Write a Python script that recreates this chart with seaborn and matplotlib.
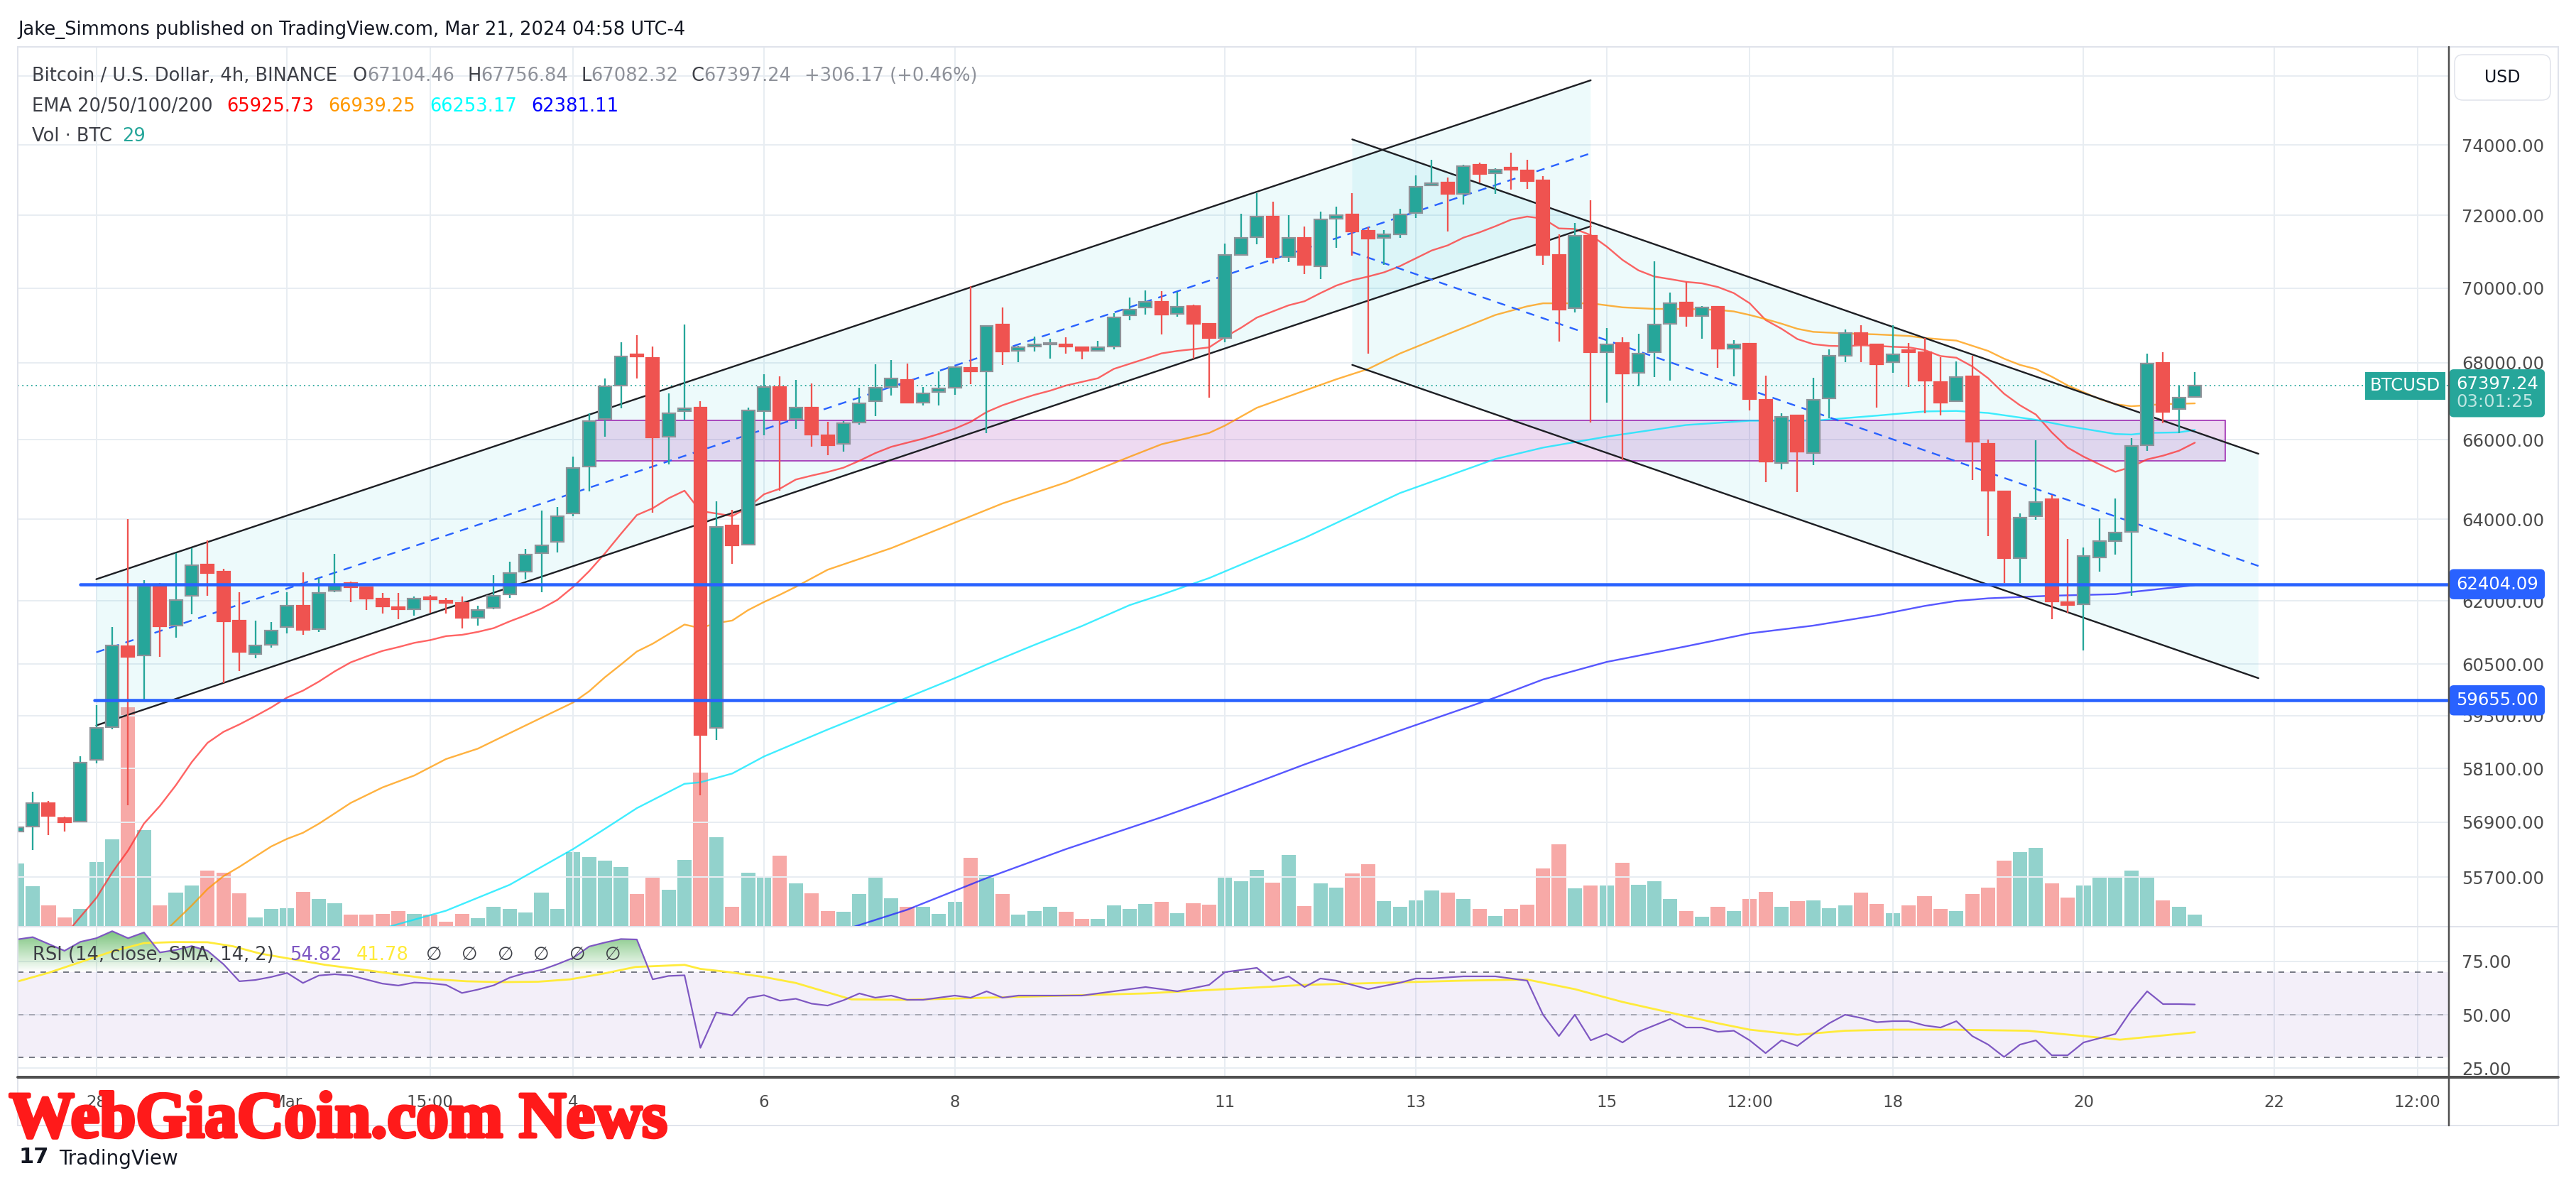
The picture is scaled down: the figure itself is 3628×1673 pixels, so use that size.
import numpy as np
import pandas as pd
import matplotlib
matplotlib.use("Agg")
import matplotlib.pyplot as plt
import matplotlib.ticker as mticker
import matplotlib.patheffects as pe
from matplotlib.colors import LinearSegmentedColormap
from matplotlib.lines import Line2D
from matplotlib.patches import FancyBboxPatch, Rectangle
from matplotlib.path import Path
from matplotlib.transforms import IdentityTransform
import seaborn as sns

# ---------------- data (4h candles, index 0 = Feb 27 08:00) ----------------
candle_idx = list(range(-1, 137))

opens = [56700, 56811, 57318, 56990, 56920, 58288, 59041, 60918, 60697, 62403,
         61410, 62126, 62880, 62704, 61533, 60733, 60955, 61373, 61877, 61324,
         62240, 62430, 62330, 62050, 61840, 61800, 62080, 62010, 61950, 61594,
         61828, 62151, 62717, 63157, 63434, 64140, 65312, 66528, 67406, 68232,
         68137, 66081, 66730, 66825, 59018, 63849, 63371, 66730, 67366, 66540,
         66825, 66121, 65898, 66446, 67000, 67366, 67555, 66960, 67244, 67338,
         67865, 67770, 69027, 68315, 68430, 68480, 68480, 68411, 68315, 68438,
         69260, 69479, 69630, 69302, 69507, 69041, 68657, 70913, 71400, 71971,
         70842, 71385, 70599, 71914, 72029, 71571, 71371, 71471, 72071, 72850,
         72920, 72603, 73424, 73180, 73330, 73266, 72992, 70913, 69452, 71428,
         68274, 68520, 67730, 68274, 69041, 69603, 69247, 69493, 68384, 68507,
         67027, 65414, 66622, 65656, 67068, 68178, 68795, 68493, 68027, 68300,
         68288, 67501, 67000, 67650, 65898, 64700, 63032, 64076, 64497, 61963,
         61926, 63057, 63459, 63686, 65860, 68000, 66798, 67104.46]
highs = [56850, 57580, 57364, 57030, 58370, 59547, 61373, 64000, 62503, 62430,
         63157, 63283, 63472, 62780, 62214, 61533, 61496, 62214, 62692, 62554,
         63145, 62470, 62350, 62190, 62200, 62100, 62140, 62070, 62100, 61877,
         62630, 62956, 63258, 64204, 64293, 65567, 66675, 67595, 68548, 68726,
         68425, 67190, 69014, 67000, 64446, 64230, 66825, 67703, 67636, 67555,
         67460, 66460, 66486, 67352, 67960, 68082, 67987, 67366, 67770, 67892,
         70058, 68973, 69479, 68452, 68698, 68630, 68685, 68440, 68575, 69315,
         69753, 69945, 69918, 69890, 69562, 69041, 71214, 72057, 72634, 72389,
         72000, 71700, 72100, 72240, 72634, 71671, 71585, 72197, 73136, 73582,
         73064, 73424, 73496, 73323, 73784, 73582, 73107, 71485, 71786, 72432,
         68931, 68685, 68781, 70727, 69877, 70172, 69520, 69520, 68603, 68507,
         67663, 66690, 66622, 67609, 68356, 68891, 69000, 68493, 69000, 68520,
         68657, 68150, 68041, 68178, 66013, 64700, 64140, 65987, 64610, 63510,
         63308, 64013, 64522, 66040, 68247, 68288, 67406, 67756.84]
lows = [56600, 56290, 56611, 56700, 56900, 58218, 58994, 57270, 59665, 60672,
        61127, 61680, 62126, 60053, 60335, 60635, 60894, 61226, 61189, 61263,
        62214, 61963, 61779, 61693, 61570, 61650, 61720, 61690, 61335, 61410,
        61800, 62076, 62528, 62214, 63182, 64076, 64700, 66081, 66811, 67595,
        64166, 65376, 66514, 57502, 58747, 62906, 63346, 66108, 64713, 66285,
        65822, 65605, 65694, 66392, 66608, 67136, 66960, 66892, 66892, 67163,
        67433, 66176, 67946, 68027, 68301, 68110, 68247, 68096, 68300, 68356,
        69137, 69288, 68754, 69233, 68110, 67095, 68548, 70913, 71200, 70670,
        70713, 70384, 70241, 71100, 70885, 68247, 70627, 71371, 71928, 72850,
        71557, 72317, 72920, 72603, 72719, 72747, 70627, 68561, 69343, 66446,
        66960, 65478, 67379, 67622, 67527, 68960, 68644, 67865, 67636, 66757,
        64930, 65249, 64675, 65351, 66555, 68014, 68014, 66825, 67730, 67366,
        66690, 66622, 67000, 64981, 63573, 62428, 62428, 63975, 61557, 61717,
        60820, 62704, 63120, 62126, 65720, 66419, 66176, 67082.32]
closes = [56790, 57318, 57042, 56900, 58230, 59018, 60930, 60672, 62365, 61385,
          62025, 62868, 62680, 61508, 60795, 60943, 61287, 61877, 61312, 62189,
          62380, 62330, 62050, 61865, 61800, 62050, 62040, 61960, 61594, 61780,
          62126, 62680, 63132, 63346, 64076, 65274, 66486, 67379, 68164, 68164,
          66067, 66690, 66811, 58865, 63811, 63346, 66757, 67366, 66514, 66825,
          66135, 65860, 66419, 66946, 67352, 67582, 66960, 67203, 67325, 67892,
          67770, 68973, 68301, 68410, 68466, 68493, 68440, 68315, 68411, 69205,
          69425, 69630, 69288, 69493, 69041, 68657, 70899, 71371, 71971, 70856,
          71385, 70627, 71886, 72000, 71557, 71357, 71485, 72029, 72805, 72890,
          72603, 73395, 73165, 73294, 73300, 72963, 70913, 69411, 71428, 68274,
          68493, 67712, 68247, 69014, 69589, 69247, 69479, 68384, 68493, 67054,
          65440, 66595, 65694, 67027, 68178, 68795, 68493, 67960, 68233, 68290,
          67541, 66960, 67622, 65949, 64713, 63032, 64038, 64433, 61988, 61900,
          63082, 63459, 63673, 65847, 67973, 66717, 67091, 67397.24]
volumes = [148, 95, 50, 22, 42, 152, 205, 514, 227, 50,
           80, 97, 132, 127, 79, 22, 41, 43, 82, 65,
           55, 28, 28, 30, 37, 30, 29, 12, 30, 20,
           47, 41, 34, 80, 42, 175, 163, 155, 140, 76,
           119, 86, 157, 361, 210, 47, 127, 119, 166, 102,
           79, 37, 35, 76, 119, 67, 46, 47, 30, 58,
           162, 122, 76, 29, 37, 46, 35, 19, 19, 50,
           42, 54, 58, 32, 55, 52, 116, 106, 133, 103,
           168, 49, 102, 92, 125, 146, 60, 47, 62, 85,
           80, 65, 42, 25, 42, 52, 137, 193, 90, 97,
           97, 150, 98, 106, 65, 37, 24, 47, 37, 65,
           82, 47, 60, 62, 43, 50, 80, 54, 32, 50,
           72, 42, 37, 76, 92, 155, 174, 184, 102, 68,
           97, 115, 115, 132, 119, 62, 47, 29]

ema20_idx = [2.5] + list(range(4, 137))
ema20_val = [54650,
             55250, 55800, 56280, 56870, 57260, 57720, 58240, 58680, 58930, 59100,
             59290, 59490, 59720, 59880, 60090, 60330, 60540, 60680, 60810, 60900,
             61000, 61065, 61160, 61190, 61260, 61350, 61510, 61655, 61815, 62025,
             62340, 62720, 63157, 63635, 64100, 64270, 64520, 64710, 64200, 64140,
             64075, 64290, 64620, 64760, 64990, 65090, 65180, 65290, 65465, 65660,
             65820, 65925, 66027, 66150, 66285, 66460, 66715, 66890, 67030, 67160,
             67270, 67405, 67500, 67595, 67840, 67975, 68110, 68250, 68315, 68360,
             68410, 68685, 68930, 69205, 69370, 69535, 69645, 69865, 70070, 70215,
             70315, 70430, 70600, 70815, 71030, 71170, 71385, 71530, 71700, 71885,
             71970, 71915, 71640, 71625, 71455, 71140, 70770, 70485, 70315, 70245,
             70170, 70130, 70030, 69865, 69590, 69140, 68905, 68630, 68495, 68450,
             68440, 68465, 68450, 68425, 68410, 68340, 68180, 68135, 67905, 67595,
             67190, 66890, 66650, 66190, 65800, 65570, 65375, 65185, 65310, 65500,
             65595, 65720, 65925.73]
ema50_idx = [8.5, 10, 11, 12, 13, 14, 15, 16, 17, 18, 19, 20, 21, 22, 24, 26, 28, 30, 32, 34,
             35, 36, 37, 38, 39, 41, 42, 43, 44, 45, 46, 47, 48, 50, 54, 58, 61, 65, 69, 71,
             74, 75, 77, 80, 82, 84, 86, 88, 90, 92, 94, 95, 98, 100, 102, 104, 106, 107, 108, 109,
             110, 111, 112, 114, 116, 118, 119, 121, 122, 123, 124, 125, 126, 127, 128, 129, 130, 131,
             132, 133, 134, 136]
ema50_val = [54600, 55090, 55445, 55722, 55923, 56145, 56367, 56534, 56667, 56867,
             57096, 57327, 57500, 57673, 57940, 58312, 58547, 58900, 59253, 59606,
             59865, 60194, 60488, 60795, 60980, 61435, 61350, 61470, 61530, 61780,
             61975, 62150, 62340, 62755, 63283, 63912, 64390, 64918, 65567, 65885,
             66176, 66366, 66825, 67271, 67568, 67838, 68247, 68590, 68932, 69274,
             69507, 69589, 69589, 69480, 69438, 69438, 69411, 69370, 69274, 69164,
             69041, 68904, 68822, 68781, 68754, 68713, 68658, 68590, 68452, 68315,
             68110, 67946, 67838, 67636, 67406, 67230, 67054, 66919, 66865, 66892,
             66919, 66939.25]
ema100_idx = [22, 26, 30, 34, 36, 38, 41, 42, 44, 46, 50, 54, 58, 60, 63, 66, 69, 71, 74, 80,
              86, 92, 95, 99, 104, 108, 112, 116, 119, 121, 123, 126, 128, 131, 132, 133, 135, 136]
ema100_val = [54600, 54980, 55535, 56312, 56756, 57211, 57754, 57788, 57985, 58370,
              58982, 59570, 60170, 60488, 60950, 61400, 61900, 62150, 62553, 63535,
              64650, 65510, 65800, 66081, 66380, 66490, 66490, 66622, 66730, 66743,
              66690, 66514, 66352, 66149, 66135, 66176, 66190, 66253.17]
ema200_idx = [51.3, 55, 60, 65, 71, 74, 80, 86, 92, 95, 99, 104, 108, 112, 116, 119, 121, 123,
              127, 131, 132, 136]
ema200_val = [54600, 55000, 55680, 56310, 57010, 57384, 58190, 58960, 59720, 60140, 60550,
              60918, 61225, 61410, 61655, 61880, 62000, 62063, 62126, 62164, 62214, 62381.11]

rsi_idx = [-1, 0, 2, 3, 4, 5, 6, 7, 8, 9, 10, 11, 12, 13, 14, 15, 16, 17, 18, 19, 20,
           22, 23, 24, 25, 26, 27, 28, 29, 30, 31, 32, 33, 34, 35, 36, 37, 38, 39, 40, 41,
           42, 43, 44, 45, 46, 47, 48, 49, 50, 51, 52, 53, 54, 55, 56, 57, 58, 59, 60, 61, 62,
           64, 66, 68, 70, 72, 74, 75, 77, 78, 79, 80, 81, 82, 83, 84, 86, 87, 88, 90,
           92, 93, 94, 95, 96, 97, 98, 99, 100, 101, 102, 103, 104, 105, 106, 107, 108, 109,
           110, 111, 112, 113, 114, 115, 116, 117, 118, 119, 120, 121, 122, 123, 124, 125,
           126, 127, 128, 129, 130, 131, 132, 133, 134, 135, 136]
rsi_val = [85.3, 86.4, 80.0, 84.2, 85.9, 89.2, 85.9, 88.6, 79.2, 80.4, 82.2, 80.0, 73.7, 65.7,
           66.3, 67.7, 69.6, 64.9, 68.4, 69.0, 68.4,
           64.6, 63.7, 65.1, 64.8, 64.0, 60.2, 61.8, 63.8, 67.4, 69.6, 71.0, 73.7, 76.7, 82.0,
           83.9, 85.5, 85.3, 66.6, 68.2, 68.5, 34.5, 51.1, 49.7, 57.9, 59.2, 56.6, 57.5, 55.2,
           54.3, 56.8, 60, 58, 59, 57, 57, 58, 59, 58, 61, 58, 59,
           59, 59, 61, 63, 61, 64, 70, 72, 66, 68, 63, 67, 66, 64, 62, 65, 67, 67, 68,
           68, 67, 66, 50, 40, 50, 38, 41, 37, 42, 45, 48, 44, 44, 42, 42.5, 38, 32,
           38, 35.4, 41, 46, 50, 48.5, 46.5, 47, 47, 45, 44, 47, 40, 36, 30.2, 36,
           38, 31, 31, 37, 39, 41, 52, 61, 55, 55, 54.82]
rsi_sma_idx = [-1, 1, 3, 5, 7, 9, 11, 12.6, 14.3, 16, 18.4, 21.5, 25, 27.3, 29.4, 31.8, 33.8,
               35.9, 37.9, 41, 42, 43.7, 46, 48, 49.5, 51.5, 55, 60, 65, 70, 75, 80, 85, 90,
               94, 97, 100, 103, 106, 108, 111, 114, 117, 120.5, 125.5, 129.4, 131.3, 133.2, 136]
rsi_sma_val = [65.5, 69.7, 74.7, 79.7, 83.6, 84.1, 84.0, 82.1, 78.7, 76.5, 73.4, 70.4, 66.8,
               65.7, 65.3, 65.5, 66.6, 69.3, 72.4, 73.4, 71.5, 70.1, 67.7, 64.9, 61.6, 57.2,
               57, 58, 59, 60, 62, 64, 65, 66, 66.5, 62, 56, 51, 46, 43, 40.6, 42.5, 43, 43,
               42.5, 39.7, 38.3, 39.7, 41.78]

# drawings on the chart
asc_idx = [4, 98]
asc_top = [62525, 75878]
asc_bot = [59077, 71700]
desc_idx = [83, 140]
desc_top = [74158, 65643]
desc_bot = [67946, 60170]
zone_idx = [35.4, 137.9]
zone_price = [65465, 66500]
support_levels = [62404.09, 59655.00]
support_start = [3.0, 3.9]
last_price = 67397.24

price_ticks = [76000, 74000, 72000, 70000, 68000, 66000, 64000, 62000, 60500, 59300, 58100,
               56900, 55700]
time_idx = [4, 16, 25, 34, 46, 58, 75, 87, 99, 108, 117, 129, 141, 150]
time_labels = ["28", "Mar", "15:00", "4", "6", "8", "11", "13", "15", "12:00", "18", "20",
               "22", "12:00"]

# ---------------- style ----------------
UP, DOWN = "#26a69a", "#ef5350"
UP_VOL, DOWN_VOL = "#92d2cc", "#f7a9a7"
GRID = "#e8edf2"
AXIS_TXT = "#4b4b4b"
DARK = "#3d3f46"
GRAYTXT = "#8e9199"

sns.set_theme(style="white")
plt.rcParams["font.family"] = ["DejaVu Sans"]

W, H = 3628, 1673
fig = plt.figure(figsize=(W / 100, H / 100), dpi=100)
fig.patch.set_facecolor("white")


def box(l, t, r, b):
    return [l / W, 1 - b / H, (r - l) / W, (b - t) / H]


def pt(p):
    return p * 0.72


PL, PR = 25, 3449
ax_vol = fig.add_axes(box(PL, 66, PR, 1305))
ax = fig.add_axes(box(PL, 66, PR, 1305), sharex=ax_vol)
ax_rsi = fig.add_axes(box(PL, 1305, PR, 1517), sharex=ax_vol)
ax.set_facecolor("none")
ax_vol.set_axis_off()

df = pd.DataFrame({"i": candle_idx, "o": opens, "h": highs, "l": lows, "c": closes,
                   "v": volumes})
up = (df.c >= df.o).values
cols = np.where(up, UP, DOWN)

# volume
ax_vol.bar(df.i, df.v, width=0.9, color=np.where(up, UP_VOL, DOWN_VOL), linewidth=0)
ax_vol.set_ylim(0, 2063)

# price pane
ax.set_yscale("log")
ax.set_ylim(54640, 76868)

ax.fill(np.r_[asc_idx, asc_idx[::-1]], np.r_[asc_top, asc_bot[::-1]], color="#00bcd4",
        alpha=0.07, lw=0, zorder=1)
ax.fill(np.r_[desc_idx, desc_idx[::-1]], np.r_[desc_top, desc_bot[::-1]], color="#00bcd4",
        alpha=0.07, lw=0, zorder=1)
ax.add_patch(Rectangle((zone_idx[0], zone_price[0]), zone_idx[1] - zone_idx[0],
                       zone_price[1] - zone_price[0], facecolor=(0.61, 0.15, 0.69, 0.17),
                       edgecolor="#9c27b0", lw=pt(1.6), zorder=1.5))

for xs, ys, c in [(ema20_idx, ema20_val, "#ff3030"), (ema50_idx, ema50_val, "#ff9800"),
                  (ema100_idx, ema100_val, "#00e8ff"), (ema200_idx, ema200_val, "#2020ff")]:
    sns.lineplot(x=xs, y=ys, ax=ax, color=c, linewidth=pt(2.4), alpha=0.75,
                 estimator=None, sort=False, zorder=3)

for xs, top, bot in [(asc_idx, asc_top, asc_bot), (desc_idx, desc_top, desc_bot)]:
    ax.plot(xs, top, color="#1e1f24", lw=pt(2.4), zorder=3.5)
    ax.plot(xs, bot, color="#1e1f24", lw=pt(2.4), zorder=3.5)
    mid = np.sqrt(np.array(top) * np.array(bot))
    ax.plot(xs, mid, color="#2962ff", lw=pt(2.4), ls=(0, (5, 4)), zorder=3.5)

lo = np.minimum(df.o, df.c).values
hi = np.maximum(df.o, df.c).values
ax.vlines(df.i, df.l, df.h, colors=cols, linewidth=pt(2.3), zorder=4)
ax.bar(df.i, np.maximum(hi - lo, hi * 0.0008), bottom=lo, width=0.8, color=cols,
       edgecolor=np.where(up, "#8e9298", cols), linewidth=pt(2.2), zorder=5)

ax.axhline(last_price, color=UP, lw=pt(1.8), ls=(0, (1, 2.5)), zorder=2)
for lvl, x0 in zip(support_levels, support_start):
    ax.plot([x0, 152.5], [lvl, lvl], color="#2962ff", lw=pt(4.5), solid_capstyle="round",
            zorder=6)

ax.set_xlim(-0.94, 151.98)
ax.yaxis.tick_right()
ax.set_yticks(price_ticks)
ax.set_yticklabels([f"{p:.2f}" for p in price_ticks])
ax.yaxis.set_minor_locator(mticker.NullLocator())
ax.tick_params(axis="y", length=0, pad=pt(18), labelsize=17.5, labelcolor=AXIS_TXT)
ax.tick_params(axis="x", length=0, labelbottom=False)
ax.set_axisbelow(True)
ax.grid(True, color=GRID, lw=pt(2))
for s in ax.spines.values():
    s.set_visible(False)

# price tags on the axis
tag_kw = dict(xycoords=ax.get_yaxis_transform(), textcoords="offset pixels",
              fontsize=17.5, annotation_clip=False, zorder=10)
for lvl in support_levels:
    ax.annotate(f"{lvl:.2f}", xy=(1, lvl), xytext=(10, 0), ha="left", va="center",
                color="white", bbox=dict(boxstyle="round,pad=0.38,rounding_size=0.25",
                                         fc="#2962ff", ec="none"), **tag_kw)
ax.annotate(f"{last_price:.2f}\n ", xy=(1, last_price), xytext=(10, 14), ha="left",
            va="top", color="white", linespacing=1.05,
            bbox=dict(boxstyle="round,pad=0.38,rounding_size=0.25", fc=UP, ec="none"), **tag_kw)
ax.annotate(" \n03:01:25", xy=(1, last_price), xytext=(10, 14), ha="left", va="top",
            color="#bfe6e2", linespacing=1.05, **tag_kw)
ax.annotate("BTCUSD", xy=(1, last_price), xytext=(-12, 0), ha="right", va="center",
            color="white", bbox=dict(boxstyle="square,pad=0.3", fc=UP, ec="none"), **tag_kw)

# RSI pane
ax_rsi.axhspan(30, 70, color="#7e57c2", alpha=0.09, lw=0, zorder=1)
for lvl, a in [(70, 1), (50, 0.55), (30, 1)]:
    ax_rsi.axhline(lvl, color="#787b86", lw=pt(2), ls=(0, (4, 4)), alpha=a, zorder=1.2)
rx = np.array(rsi_idx, float)
ry = np.array(rsi_val, float)
ob = ax_rsi.fill_between(rx, 70, ry, where=ry > 70, interpolate=True, facecolor="none",
                         edgecolor="none")
green = LinearSegmentedColormap.from_list("ob", [(0.30, 0.69, 0.31, 0.0),
                                                 (0.30, 0.69, 0.31, 0.75)])
img = ax_rsi.imshow(np.linspace(0, 1, 200).reshape(-1, 1), cmap=green, origin="lower",
                    aspect="auto", extent=(-2, 153, 70, 89.5), zorder=1.5)
img.set_clip_path(Path.make_compound_path(*ob.get_paths()), transform=ax_rsi.transData)
sns.lineplot(x=rsi_sma_idx, y=rsi_sma_val, ax=ax_rsi, color="#ffeb3b", linewidth=pt(2.8),
             estimator=None, sort=False, zorder=3)
sns.lineplot(x=rsi_idx, y=rsi_val, ax=ax_rsi, color="#7e57c2", linewidth=pt(2.2),
             estimator=None, sort=False, zorder=4)
ax_rsi.set_ylim(20.7, 91.3)
ax_rsi.set_xlim(-0.94, 151.98)
ax_rsi.yaxis.tick_right()
ax_rsi.set_yticks([25, 50, 75])
ax_rsi.set_yticklabels(["25.00", "50.00", "75.00"])
ax_rsi.set_xticks(time_idx)
ax_rsi.set_xticklabels(time_labels)
ax_rsi.tick_params(axis="y", length=0, pad=pt(18), labelsize=17.5, labelcolor=AXIS_TXT)
ax_rsi.tick_params(axis="x", length=0, pad=pt(24), labelsize=16.5, labelcolor=AXIS_TXT)
ax.tick_params(axis="x", labelbottom=False)
ax_rsi.set_axisbelow(True)
ax_rsi.grid(True, color=GRID, lw=pt(2))
ax_rsi.set_xlabel("")
ax_rsi.set_ylabel("")
ax.set_xlabel("")
ax.set_ylabel("")
for s in ax_rsi.spines.values():
    s.set_visible(False)

# frame lines (pixel coordinates)
def hline(x0, x1, y, c, w):
    fig.add_artist(Line2D([x0, x1], [H - y, H - y], color=c, lw=pt(w),
                          transform=IdentityTransform()))


def vline(x, y0, y1, c, w):
    fig.add_artist(Line2D([x, x], [H - y0, H - y1], color=c, lw=pt(w),
                          transform=IdentityTransform()))


fig.add_artist(Rectangle((25, H - 1585), 3578, 1519, fill=False, ec="#e0e3eb", lw=pt(2),
                         transform=IdentityTransform()))
hline(25, 3603, 1305, "#e0e3eb", 2)
hline(25, 3603, 1517, "#505050", 4)
vline(3449, 66, 1585, "#505050", 2.5)

fig.add_artist(FancyBboxPatch((3457, H - 141), 135, 64,
                              boxstyle="round,pad=0,rounding_size=12", fc="white",
                              ec="#e0e3eb", lw=pt(1.5), transform=IdentityTransform()))
fig.text(3524 / W, 1 - 109 / H, "USD", fontsize=17, color="#131722", ha="center", va="center")

# legend-style header texts
rend = fig.canvas.get_renderer()


def run(x, y, pieces, size):
    for s, c, gap in pieces:
        t = fig.text(x / W, 1 - y / H, s, color=c, fontsize=size, ha="left", va="center")
        x += t.get_window_extent(rend).width + gap


run(25, 42, [("Jake_Simmons published on TradingView.com, Mar 21, 2024 04:58 UTC-4",
              "#131722", 0)], 18.5)
run(45, 107, [("Bitcoin / U.S. Dollar, 4h, BINANCE", DARK, 22), ("O", DARK, 0),
              ("67104.46", GRAYTXT, 18), ("H", DARK, 0), ("67756.84", GRAYTXT, 18),
              ("L", DARK, 0), ("67082.32", GRAYTXT, 18), ("C", DARK, 0),
              ("67397.24", GRAYTXT, 18), ("+306.17 (+0.46%)", GRAYTXT, 0)], 18.5)
run(45, 150, [("EMA 20/50/100/200", DARK, 20), ("65925.73", "#ff0000", 20),
              ("66939.25", "#ff9800", 20), ("66253.17", "#00ffff", 20),
              ("62381.11", "#0000ff", 0)], 18.5)
run(45, 192, [("Vol · BTC", DARK, 14), ("29", UP, 0)], 18.5)
run(46, 1345, [("RSI (14, close, SMA, 14, 2)", DARK, 22), ("54.82", "#7e57c2", 20),
               ("41.78", "#ffeb3b", 25)] + [("∅", DARK, 28)] * 6, 18.5)

# watermark and logo
wm = fig.text(13 / W, 1 - 1601 / H, "WebGiaCoin.com News", fontsize=66, color="#ff1a1a",
              fontfamily="Liberation Serif", fontweight="bold", ha="left", va="baseline",
              zorder=20)
wm.set_path_effects([pe.withStroke(linewidth=3.5, foreground="#ff1a1a")])
fig.text(27 / W, 1 - 1630 / H, "17", fontsize=22, fontweight="bold", color="#131722",
         ha="left", va="center")
fig.text(83 / W, 1 - 1632 / H, "TradingView", fontsize=20, color="#131722", ha="left",
         va="center")

fig.savefig("out.png", dpi=100, facecolor="white")
